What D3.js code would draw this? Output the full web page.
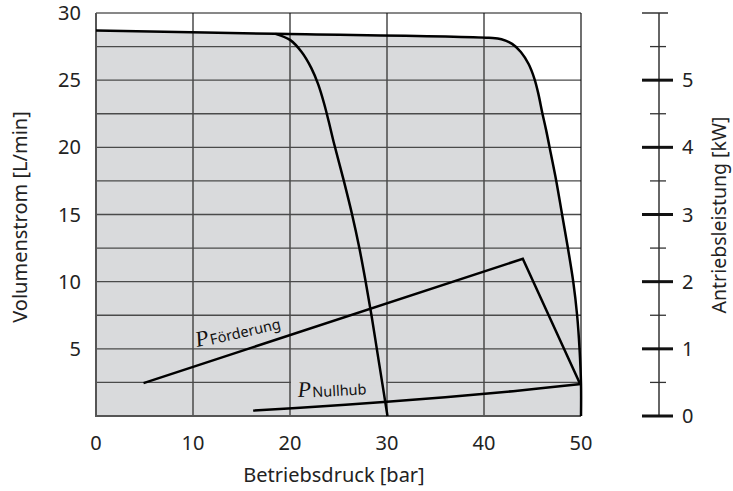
<!DOCTYPE html>
<html><head><meta charset="utf-8">
<script src="https://cdn.jsdelivr.net/npm/d3@7"></script>
<style>body{margin:0;background:#fff}svg{display:block}</style>
</head><body>
<svg id="c" width="733" height="491"></svg>
<script>
// Data (pressure in bar, flow in L/min, power in kW)
const pressureTicks = [0, 10, 20, 30, 40, 50];
const flowTicks = [5, 10, 15, 20, 25, 30];
const flowGrid = [2.5, 5, 7.5, 10, 12.5, 15, 17.5, 20, 22.5, 25, 27.5];
const powerMajor = [0, 1, 2, 3, 4, 5];
const powerMinor = [0.5, 1.5, 2.5, 3.5, 4.5, 5.5];
const envelopeP = [0, 18.5, 40.5, 41.8, 42.9, 43.8, 44.6, 45.2, 45.6, 46.0, 46.4, 46.9, 47.45, 48.05, 48.65, 49.2, 49.6, 49.85, 50.0, 50.0];
const envelopeQ = [28.7, 28.45, 28.15, 28.05, 27.7, 27.1, 26.2, 25.1, 24.0, 22.6, 21.3, 19.5, 17.5, 15.0, 12.5, 10.0, 7.5, 5.0, 2.4, 0];
const innerP = [18.5, 20.0, 21.2, 22.2, 22.9, 23.5, 24.0, 24.5, 25.55, 26.4, 27.15, 27.8, 28.4, 28.95, 29.5, 30.05];
const innerQ = [28.45, 28.0, 27.1, 25.9, 24.7, 23.3, 21.9, 20.4, 17.5, 15.0, 12.5, 10.0, 7.5, 5.0, 2.5, 0];
const foerderP = [4.9, 44.0, 49.9];
const foerderKW = [0.49, 2.34, 0.48];
const nullhubP = [16.2, 23.0, 30.0, 36.0, 43.0, 50.0];
const nullhubKW = [0.08, 0.142, 0.212, 0.28, 0.37, 0.476];

const svg = d3.select('#c');
const L = 96, R = 581, T = 13, B = 416;
const x = d3.scaleLinear().domain([0, 50]).range([L, R]);
const y = d3.scaleLinear().domain([0, 30]).range([B, T]);
const yk = d3.scaleLinear().domain([0, 6]).range([B, T]);
const font = "'Noto Sans', 'DejaVu Sans', sans-serif";
const fillCol = '#d9dadc';
const gridCol = '#4a4a4a';
const smooth = d3.curveCatmullRom.alpha(0.5);

const env = envelopeP.map((p, i) => [p, envelopeQ[i]]);
const inner = innerP.map((p, i) => [p, innerQ[i]]);
const foer = foerderP.map((p, i) => [p, foerderKW[i]]);
const nul = nullhubP.map((p, i) => [p, nullhubKW[i]]);

// fill under envelope
svg.append('path').datum(env)
  .attr('d', d3.area().x(d => x(d[0])).y0(y(0)).y1(d => y(d[1])).curve(smooth))
  .attr('fill', fillCol);

// grid
const g = svg.append('g');
g.selectAll('line.h').data(flowGrid).join('line')
  .attr('x1', L).attr('x2', R).attr('y1', d => y(d)).attr('y2', d => y(d))
  .attr('stroke', gridCol).attr('stroke-width', 1.3);
g.selectAll('line.v').data(pressureTicks.slice(1, -1)).join('line')
  .attr('x1', d => x(d)).attr('x2', d => x(d)).attr('y1', T).attr('y2', B)
  .attr('stroke', gridCol).attr('stroke-width', 1.5);
// gap in the gridline behind the P_Nullhub label
svg.append('rect').attr('x', x(20) + 1).attr('width', x(30) - x(20) - 2)
  .attr('y', y(2.5) - 3).attr('height', 6).attr('fill', fillCol);

// frame
svg.append('line').attr('x1', L).attr('x2', R).attr('y1', T).attr('y2', T).attr('stroke', '#111').attr('stroke-width', 1);
svg.append('line').attr('x1', R).attr('x2', R).attr('y1', T).attr('y2', B).attr('stroke', '#111').attr('stroke-width', 1.2);
svg.append('line').attr('x1', L).attr('x2', L).attr('y1', T).attr('y2', B + 1).attr('stroke', '#555').attr('stroke-width', 2);
svg.append('line').attr('x1', L - 1).attr('x2', R).attr('y1', B).attr('y2', B).attr('stroke', '#555').attr('stroke-width', 2);

// curves
const lineQ = d3.line().x(d => x(d[0])).y(d => y(d[1])).curve(smooth);
svg.append('path').datum(env).attr('d', lineQ).attr('fill', 'none').attr('stroke', '#000').attr('stroke-width', 2.5);
svg.append('path').datum(inner).attr('d', lineQ).attr('fill', 'none').attr('stroke', '#000').attr('stroke-width', 2.5);
svg.append('path').datum(foer).attr('d', d3.line().x(d => x(d[0])).y(d => yk(d[1])))
  .attr('fill', 'none').attr('stroke', '#000').attr('stroke-width', 2.5).attr('stroke-linejoin', 'miter');
svg.append('path').datum(nul).attr('d', d3.line().x(d => x(d[0])).y(d => yk(d[1])).curve(smooth))
  .attr('fill', 'none').attr('stroke', '#000').attr('stroke-width', 2.5);

// left axis labels
svg.append('g').selectAll('text').data(flowTicks).join('text')
  .attr('x', 81).attr('y', d => y(d)).attr('dy', '0.35em').attr('text-anchor', 'end')
  .attr('font-family', font).attr('font-size', 20).attr('fill', '#222').text(d => d);
// bottom axis labels
svg.append('g').selectAll('text').data(pressureTicks).join('text')
  .attr('x', d => x(d)).attr('y', 443).attr('dy', '0.35em').attr('text-anchor', 'middle')
  .attr('font-family', font).attr('font-size', 20).attr('fill', '#222').text(d => d);

// right axis
const ax = 659;
svg.append('line').attr('x1', ax).attr('x2', ax).attr('y1', yk(6)).attr('y2', yk(0)).attr('stroke', '#333').attr('stroke-width', 1.5);
svg.append('line').attr('x1', ax - 17).attr('x2', ax + 9).attr('y1', yk(6)).attr('y2', yk(6)).attr('stroke', '#333').attr('stroke-width', 1.5);
svg.selectAll('line.mn').data(powerMinor).join('line')
  .attr('x1', ax - 9).attr('x2', ax + 7).attr('y1', d => yk(d)).attr('y2', d => yk(d))
  .attr('stroke', '#333').attr('stroke-width', 1.3);
svg.selectAll('line.mj').data(powerMajor).join('line')
  .attr('x1', ax - 17).attr('x2', ax + 14).attr('y1', d => yk(d)).attr('y2', d => yk(d))
  .attr('stroke', '#111').attr('stroke-width', 3);
svg.append('g').selectAll('text').data(powerMajor).join('text')
  .attr('x', 682).attr('y', d => yk(d)).attr('dy', '0.35em')
  .attr('font-family', font).attr('font-size', 20).attr('fill', '#222').text(d => d);

// titles
svg.append('text').attr('x', 334).attr('y', 475).attr('dy', '0.35em').attr('text-anchor', 'middle')
  .attr('font-family', font).attr('font-size', 20).attr('fill', '#222').text('Betriebsdruck [bar]');
svg.append('text').attr('transform', 'translate(20,217) rotate(-90)').attr('dy', '0.35em').attr('text-anchor', 'middle')
  .attr('font-family', font).attr('font-size', 20).attr('fill', '#222').text('Volumenstrom [L/min]');
svg.append('text').attr('transform', 'translate(719,215) rotate(-90)').attr('dy', '0.35em').attr('text-anchor', 'middle')
  .attr('font-family', font).attr('font-size', 19.5).attr('fill', '#222').text('Antriebsleistung [kW]');

// curve labels
function pLabel(px, py, ang, sub) {
  const t = svg.append('text').attr('transform', `translate(${px},${py}) rotate(${ang})`).attr('fill', '#111');
  t.append('tspan').attr('font-family', "'Liberation Serif', 'DejaVu Serif', serif").attr('font-style', 'italic')
    .attr('font-size', 22).text('P');
  t.append('tspan').attr('font-family', font).attr('font-size', 14.5).attr('dx', 1).attr('dy', 1).text(sub);
}
pLabel(197, 347, -13, 'Förderung');
pLabel(298, 397, -3, 'Nullhub');
</script>
</body></html>
